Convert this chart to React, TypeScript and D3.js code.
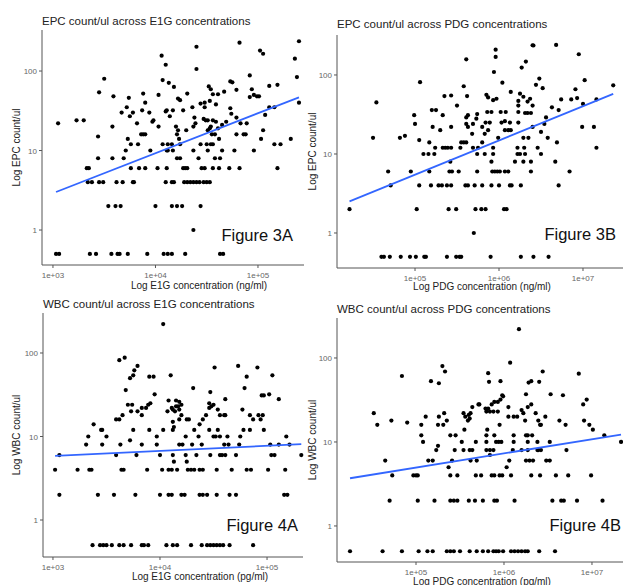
import React from "react";
import * as d3 from "d3";

// each point: [log10 concentration, count/ul]  (zero counts sit at 0.5)
type Obs = [number, number];

const epcE1g: Obs[] = [
  [3.03, 0.5], [3.06, 0.5], [3.36, 0.5], [3.42, 0.5], [3.57, 0.5], [3.63, 0.5], [3.65, 0.5], [3.73, 0.5],
  [3.92, 0.5], [4.08, 0.5], [4.12, 0.5], [4.16, 0.5], [4.29, 0.5], [4.63, 0.5], [4.66, 0.5],
  [4.37, 1],
  [3.54, 2], [3.61, 2], [3.66, 2], [4.0, 2], [4.16, 2], [4.21, 2], [4.26, 2], [4.44, 2],
  [3.34, 4], [3.38, 4], [3.45, 4], [3.49, 4], [3.62, 4], [3.68, 4], [3.78, 4], [3.79, 4], [4.1, 4], [4.16, 4],
  [4.18, 4], [4.28, 4], [4.31, 4], [4.34, 4], [4.37, 4], [4.4, 4], [4.43, 4], [4.47, 4], [4.5, 4], [4.53, 4],
  [3.33, 6], [3.35, 6], [3.76, 6], [3.84, 6], [3.9, 6], [4.02, 6], [4.11, 6], [4.27, 6], [4.29, 6], [4.31, 6],
  [4.45, 6], [4.48, 6], [4.56, 6], [4.62, 6], [4.72, 6], [4.82, 6], [5.19, 6],
  [3.44, 8], [3.58, 8], [3.69, 8], [4.21, 8], [4.24, 8], [4.42, 8], [4.58, 8], [4.63, 8],
  [3.71, 10], [3.95, 10], [4.11, 10], [4.12, 10], [4.17, 10], [4.37, 10], [4.51, 10], [4.65, 10], [4.77, 10], [4.96, 10],
  [3.76, 12], [3.83, 12], [4.07, 12], [4.12, 12], [4.16, 12], [4.24, 12], [4.44, 12], [4.5, 12], [4.54, 12],
  [4.56, 12], [5.16, 12], [5.22, 12],
  [3.73, 14], [4.23, 14], [4.62, 14], [5.03, 14], [5.32, 14], [3.44, 15],
  [3.86, 16], [3.88, 16], [3.9, 16], [4.21, 16], [4.55, 16], [4.58, 16], [4.79, 16], [4.86, 16], [4.88, 16],
  [3.05, 22], [3.23, 24], [3.3, 24], [3.5, 80], [3.45, 54], [3.59, 48], [3.58, 20], [3.67, 30], [3.72, 35],
  [3.74, 46], [3.78, 30], [3.75, 27], [3.82, 22], [3.87, 32], [3.88, 52], [3.9, 40], [3.94, 30], [3.97, 23],
  [3.98, 24], [4.03, 20], [4.03, 50], [4.06, 156], [4.1, 120], [4.07, 77], [4.13, 71], [4.18, 63], [4.1, 31],
  [4.11, 32], [4.14, 27], [4.17, 32], [4.22, 45], [4.24, 43], [4.31, 52], [4.27, 32], [4.36, 35], [4.2, 20],
  [4.22, 18], [4.3, 18], [4.4, 202], [4.4, 106], [4.82, 227], [5.02, 181], [5.05, 165], [5.4, 237], [5.36, 143],
  [5.38, 84], [5.4, 40], [4.44, 39], [4.48, 40], [4.48, 35], [4.52, 64], [4.54, 59], [4.56, 51], [4.61, 51],
  [4.59, 38], [4.53, 42], [4.67, 55], [4.73, 74], [4.75, 72], [4.79, 58], [4.92, 88], [4.94, 59], [4.96, 50],
  [4.99, 48], [5.01, 48], [4.92, 47], [5.11, 65], [5.19, 67], [5.11, 35], [5.16, 35], [5.07, 28], [5.05, 18],
  [4.38, 26], [4.39, 22], [4.37, 20], [4.47, 25], [4.49, 24], [4.51, 24], [4.56, 24], [4.59, 23], [4.54, 20],
  [4.61, 19], [4.65, 21], [4.69, 23], [4.73, 34], [4.74, 29], [4.79, 26], [4.83, 22], [4.89, 22], [4.51, 18],
  [4.53, 19],
];

const epcPdg: Obs[] = [
  [4.6, 0.5], [4.63, 0.5], [4.7, 0.5], [4.83, 0.5], [4.94, 0.5], [5.01, 0.5], [5.11, 0.5], [5.13, 0.5],
  [5.38, 0.5], [5.49, 0.5], [5.53, 0.5], [5.55, 0.5], [5.9, 0.5], [6.26, 0.5], [6.41, 0.5], [6.59, 0.5],
  [5.7, 1],
  [4.22, 2], [5.02, 2], [5.4, 2], [5.49, 2], [5.72, 2], [5.79, 2], [5.84, 2], [6.06, 2], [6.09, 2],
  [4.71, 4], [5.05, 4], [5.19, 4], [5.28, 4], [5.32, 4], [5.38, 4], [5.43, 4], [5.6, 4], [5.63, 4], [5.71, 4],
  [5.8, 4], [5.91, 4], [6.0, 4], [6.13, 4], [6.15, 4], [6.26, 4], [6.71, 4],
  [4.68, 6], [4.95, 6], [5.17, 6], [5.41, 6], [5.44, 6], [5.52, 6], [5.74, 6], [5.92, 6], [5.95, 6], [5.98, 6],
  [6.01, 6], [6.07, 6], [6.11, 6], [6.38, 6], [6.84, 6],
  [5.42, 8], [5.91, 8], [6.19, 8], [6.29, 8], [6.38, 8], [6.67, 8],
  [5.1, 10], [5.16, 10], [5.23, 10], [5.74, 10], [5.83, 10], [5.93, 10], [6.22, 10], [6.25, 10], [6.31, 10], [6.5, 10],
  [5.24, 12], [5.33, 12], [5.36, 12], [5.39, 12], [5.43, 12], [5.54, 12], [5.69, 12], [5.75, 12], [5.93, 12],
  [6.22, 12], [6.3, 12], [6.46, 12], [7.16, 12],
  [5.17, 14], [5.55, 14], [5.58, 14], [5.61, 14], [5.8, 14], [6.69, 14], [5.05, 15],
  [4.5, 16], [4.82, 16], [5.99, 16], [6.29, 16], [6.35, 16], [6.58, 16], [4.88, 17],
  [4.54, 45], [4.99, 31], [5.0, 24], [5.06, 81], [5.2, 36], [5.25, 36], [5.21, 22], [5.33, 31], [5.3, 20],
  [5.35, 54], [5.43, 55], [5.43, 22], [5.5, 41], [5.58, 72], [5.62, 54], [5.61, 158], [5.61, 29], [5.63, 31],
  [5.61, 24], [5.63, 22], [5.69, 24], [5.68, 18], [5.74, 32], [5.73, 28], [5.96, 209], [5.96, 169], [5.94, 109],
  [6.04, 80], [6.4, 238], [6.41, 236], [6.68, 240], [6.95, 183], [6.32, 148], [6.27, 124], [6.48, 90], [6.44, 75],
  [6.52, 68], [7.02, 86], [7.36, 74], [6.91, 66], [6.86, 49], [6.93, 51], [7.0, 43], [7.16, 49], [6.74, 49],
  [6.71, 36], [6.63, 39], [6.99, 22], [7.13, 22], [6.56, 29], [6.54, 24], [6.4, 22], [6.5, 19], [6.07, 20],
  [6.11, 20], [6.14, 20], [5.83, 18], [5.87, 20], [5.8, 22], [5.84, 25], [5.89, 25], [6.03, 25], [6.07, 26],
  [6.13, 25], [6.23, 25], [5.86, 34], [5.91, 34], [6.02, 34], [6.08, 34], [6.23, 34], [5.93, 48], [5.87, 52],
  [5.85, 56], [5.97, 50], [6.31, 33], [6.34, 33], [6.38, 33], [6.4, 41], [6.34, 46], [6.37, 50], [6.23, 47],
  [6.23, 41], [6.29, 53], [6.25, 58], [6.14, 61],
];

const wbcE1g: Obs[] = [
  [3.37, 0.5], [3.44, 0.5], [3.47, 0.5], [3.5, 0.5], [3.55, 0.5], [3.62, 0.5], [3.66, 0.5], [3.73, 0.5],
  [3.83, 0.5], [3.85, 0.5], [3.89, 0.5], [4.06, 0.5], [4.12, 0.5], [4.16, 0.5], [4.29, 0.5], [4.39, 0.5],
  [4.44, 0.5], [4.47, 0.5], [4.5, 0.5], [4.53, 0.5], [4.56, 0.5], [4.59, 0.5], [4.65, 0.5], [4.87, 0.5],
  [3.06, 2], [3.42, 2], [3.57, 2], [3.77, 2], [4.0, 2], [4.08, 2], [4.11, 2], [4.2, 2], [4.23, 2], [4.37, 2],
  [4.4, 2], [4.44, 2], [4.53, 2], [4.65, 2], [4.71, 2], [5.16, 2], [5.19, 2],
  [3.02, 4], [3.23, 4], [3.34, 4], [3.36, 4], [3.64, 4], [3.66, 4], [3.88, 4], [4.02, 4], [4.08, 4], [4.11, 4],
  [4.16, 4], [4.26, 4], [4.29, 4], [4.32, 4], [4.37, 4], [4.4, 4], [4.53, 4], [4.67, 4], [4.81, 4], [4.85, 4],
  [5.01, 4], [5.17, 4],
  [4.13, 5], [4.25, 5],
  [3.06, 6], [3.59, 6], [3.78, 6], [4.0, 6], [4.12, 6], [4.24, 6], [4.34, 6], [4.47, 6], [4.56, 6], [4.58, 6],
  [4.61, 6], [4.71, 6], [5.04, 6], [5.07, 6], [5.32, 6],
  [3.31, 8], [3.46, 8], [3.63, 8], [3.83, 8], [3.97, 8], [4.18, 8], [4.21, 8], [4.3, 8], [4.39, 8], [4.6, 8],
  [4.64, 8], [4.74, 8], [5.03, 8], [5.11, 8], [5.21, 8], [3.72, 9],
  [3.33, 10], [3.5, 10], [3.97, 10], [4.24, 10], [4.36, 10], [4.5, 10], [4.52, 10], [4.56, 10], [4.63, 10],
  [4.75, 10], [5.18, 10],
  [3.45, 12], [3.46, 12], [3.75, 12], [3.9, 12], [4.03, 12], [4.12, 12], [4.32, 12], [4.46, 12], [4.54, 12],
  [4.78, 12], [4.84, 12], [4.97, 12], [4.13, 13],
  [3.38, 14], [4.37, 14], [4.12, 15],
  [3.59, 16], [3.62, 16], [4.18, 16], [4.25, 16], [4.27, 16], [4.4, 16], [4.87, 16], [4.94, 16],
  [3.65, 18], [3.83, 18], [4.2, 18], [4.43, 18], [4.56, 18], [4.6, 18], [4.61, 18], [4.84, 18], [4.92, 18], [4.96, 18],
  [3.62, 82], [3.67, 88], [3.68, 36], [3.7, 24], [3.74, 24], [3.73, 20], [3.79, 20], [3.72, 50], [3.75, 54],
  [3.76, 62], [3.79, 70], [3.83, 22], [3.87, 22], [3.89, 24], [3.91, 25], [3.9, 52], [3.94, 52], [3.95, 32],
  [4.03, 222], [4.1, 54], [4.07, 20], [4.08, 27], [4.11, 22], [4.12, 21], [4.14, 20], [4.51, 67], [4.73, 70],
  [4.91, 67], [4.81, 52], [5.05, 54], [4.31, 38], [4.47, 34], [4.79, 38], [4.61, 28], [4.95, 31], [4.97, 31],
  [5.02, 32], [5.11, 28], [4.15, 27], [4.18, 26], [4.2, 24], [4.15, 23], [4.17, 23], [4.18, 21], [4.46, 25],
  [4.48, 23], [4.5, 24], [4.46, 22], [4.54, 21], [4.77, 21],
];

const wbcPdg: Obs[] = [
  [4.25, 0.5], [4.62, 0.5], [4.84, 0.5], [5.03, 0.5], [5.13, 0.5], [5.19, 0.5], [5.35, 0.5], [5.39, 0.5],
  [5.43, 0.5], [5.5, 0.5], [5.61, 0.5], [5.69, 0.5], [5.76, 0.5], [5.82, 0.5], [5.88, 0.5], [5.91, 0.5],
  [5.94, 0.5], [5.99, 0.5], [6.08, 0.5], [6.12, 0.5], [6.16, 0.5], [6.2, 0.5], [6.24, 0.5], [6.27, 0.5],
  [6.4, 0.5], [6.58, 0.5],
  [4.7, 2], [5.02, 2], [5.21, 2], [5.39, 2], [5.43, 2], [5.47, 2], [5.6, 2], [5.67, 2], [5.76, 2], [5.89, 2],
  [5.92, 2], [6.12, 2], [6.55, 2], [6.65, 2], [6.68, 2], [6.83, 2], [7.12, 2],
  [4.73, 4], [4.97, 4], [5.0, 4], [5.02, 4], [5.39, 4], [5.47, 4], [5.68, 4], [5.74, 4], [5.86, 4], [5.89, 4],
  [5.95, 4], [5.98, 4], [6.08, 4], [6.31, 4], [6.41, 4], [6.59, 4], [6.73, 4], [6.99, 4],
  [5.37, 5], [6.03, 5],
  [4.65, 6], [5.14, 6], [5.19, 6], [5.41, 6], [5.62, 6], [5.69, 6], [6.06, 6], [6.25, 6], [6.29, 6], [6.33, 6],
  [6.48, 6], [6.52, 6], [5.84, 7],
  [5.23, 8], [5.44, 8], [5.54, 8], [5.61, 8], [5.64, 8], [5.8, 8], [5.84, 8], [5.88, 8], [6.1, 8], [6.2, 8],
  [6.27, 8], [6.38, 8], [6.39, 8], [6.42, 8], [6.71, 8], [5.25, 9],
  [5.08, 10], [5.52, 10], [5.68, 10], [5.8, 10], [5.91, 10], [5.94, 10], [5.97, 10], [6.11, 10], [6.27, 10],
  [6.38, 10], [6.52, 10], [7.33, 10],
  [5.06, 12], [5.39, 12], [5.45, 12], [5.8, 12], [5.89, 12], [6.11, 12], [6.25, 12], [6.27, 12], [6.32, 12], [7.14, 12],
  [5.55, 14], [5.81, 14], [7.01, 14],
  [4.56, 16], [5.06, 16], [5.31, 16], [5.25, 16], [5.95, 16], [6.41, 16], [6.42, 16], [6.7, 16], [6.97, 16],
  [4.9, 17],
  [4.72, 18], [5.35, 18], [5.59, 18], [6.24, 18], [6.39, 18], [6.63, 18], [6.91, 18],
  [5.11, 20], [5.26, 20], [5.56, 20], [6.05, 20], [6.11, 20], [6.15, 20], [6.47, 20],
  [4.52, 22], [4.84, 61], [5.17, 53], [5.26, 50], [5.3, 80], [5.33, 69], [5.32, 22], [5.54, 22], [5.6, 21],
  [5.62, 22], [5.64, 26], [5.71, 28], [5.61, 19], [6.17, 220], [6.07, 88], [5.82, 66], [5.83, 52], [5.96, 53],
  [6.44, 69], [6.28, 51], [6.31, 53], [6.4, 52], [6.85, 65], [6.25, 37], [6.53, 37], [6.67, 36], [5.93, 30],
  [5.96, 32], [5.99, 35], [5.98, 36], [5.89, 30], [5.86, 28], [5.82, 25], [5.79, 25], [5.72, 28], [5.84, 23],
  [5.88, 23], [5.8, 23], [5.93, 23], [6.05, 26], [6.2, 24], [6.22, 22], [6.27, 26], [6.31, 28], [6.36, 22],
  [6.9, 28], [6.94, 32],
];

// lm fits on log10-log10 scale, [intercept, slope]
const epcE1gFit = [-1.044, 0.5025];
const epcPdgFit = [-1.427, 0.433];
const wbcE1gFit = [0.586, 0.0606];
const wbcPdgFit = [-0.15, 0.169];

const e1gTicks = [1e3, 1e4, 1e5];
const pdgTicks = [1e5, 1e6, 1e7];
const countTicks = [1, 10, 100];

const titles = [
  "EPC count/ul across E1G concentrations",
  "EPC count/ul across PDG concentrations",
  "WBC count/ul across E1G concentrations",
  "WBC count/ul across PDG concentrations",
];
const xTitles = [
  "Log E1G concentration (ng/ml)",
  "Log PDG concentration (ng/ml)",
  "Log E1G concentration (pg/ml)",
  "Log PDG concentration (pg/ml)",
];
const yTitles = ["Log EPC count/ul", "Log EPC count/ul", "Log WBC count/ul", "Log WBC count/ul"];
const figureTags = ["Figure 3A", "Figure 3B", "Figure 4A", "Figure 4B"];

const FONT = "'Liberation Sans', Arial, sans-serif";

// where each cropped ggplot panel sits in the composite
const frames = [
  { data: epcE1g, fit: epcE1gFit, ticks: e1gTicks, left: 42, right: 304, top: 30, bottom: 265, xd: [2.893, 5.449], yd: [-0.44, 2.516],
    titleY: 25, xtX: 199, xtY: 288.5, ytX: 20, figX: 293, figY: 240.5, clipX: 0 },
  { data: epcPdg, fit: epcPdgFit, ticks: pdgTicks, left: 337, right: 626, top: 35, bottom: 268, xd: [4.071, 7.512], yd: [-0.443, 2.506],
    titleY: 28, xtX: 482, xtY: 290, ytX: 316, figX: 616, figY: 240, clipX: 306 },
  { data: wbcE1g, fit: wbcE1gFit, ticks: e1gTicks, left: 43, right: 303, top: 313, bottom: 557, xd: [2.907, 5.336], yd: [-0.443, 2.479],
    titleY: 307.5, xtX: 200, xtY: 580, ytX: 20, figX: 298, figY: 531, clipX: 0 },
  { data: wbcPdg, fit: wbcPdgFit, ticks: pdgTicks, left: 337, right: 635, top: 318, bottom: 562, xd: [4.102, 7.489], yd: [-0.429, 2.476],
    titleY: 312.5, xtX: 482, xtY: 584.5, ytX: 316, figX: 621, figY: 530.5, clipX: 306 },
];

function fitLine(data: Obs[], fit: number[]) {
  const [x0, x1] = d3.extent(data, (d) => d[0]) as [number, number];
  return [x0, x1].map((x) => [Math.pow(10, x), Math.pow(10, fit[0] + fit[1] * x)] as [number, number]);
}

function Panel({ i }: { i: number }) {
  const f = frames[i];
  const x = d3.scaleLog().domain([Math.pow(10, f.xd[0]), Math.pow(10, f.xd[1])]).range([f.left, f.right]);
  const y = d3.scaleLog().domain([Math.pow(10, f.yd[0]), Math.pow(10, f.yd[1])]).range([f.bottom, f.top]);
  const line = d3.line<[number, number]>().x((d) => x(d[0])).y((d) => y(d[1]));
  const axisCol = "#555";
  const tickCol = "#666";

  return (
    <g clipPath={f.clipX ? `url(#clip${i})` : undefined}>
      {f.clipX ? (
        <defs>
          <clipPath id={`clip${i}`}>
            <rect x={f.clipX} y={0} width={700} height={600} />
          </clipPath>
        </defs>
      ) : null}
      <text x={f.left} y={f.titleY} fontSize={11.5} fill="#222" fontFamily={FONT}>
        {titles[i]}
      </text>
      <line x1={f.left} x2={f.left} y1={f.top} y2={f.bottom} stroke={axisCol} strokeWidth={1} />
      <line x1={f.left} x2={f.right} y1={f.bottom} y2={f.bottom} stroke={axisCol} strokeWidth={1} />
      {f.ticks.map((t) => (
        <g key={t}>
          <line x1={x(t)} x2={x(t)} y1={f.bottom} y2={f.bottom + 3} stroke={axisCol} />
          <text x={x(t)} y={f.bottom + 12.5} fontSize={8} textAnchor="middle" fill={tickCol} fontFamily={FONT}>
            {d3.format(".0e")(t).replace("e+", "e+0")}
          </text>
        </g>
      ))}
      {countTicks.map((t) => (
        <g key={t}>
          <line x1={f.left - 3} x2={f.left} y1={y(t)} y2={y(t)} stroke={axisCol} />
          <text x={f.left - 5} y={y(t) + 3} fontSize={8} textAnchor="end" fill={tickCol} fontFamily={FONT}>
            {t}
          </text>
        </g>
      ))}
      {f.data.map((d, k) => (
        <circle key={k} cx={x(Math.pow(10, d[0]))} cy={y(d[1])} r={2.1} fill="#000" />
      ))}
      <path d={line(fitLine(f.data, f.fit)) || ""} fill="none" stroke="#3366FF" strokeWidth={1.8} />
      <text x={f.xtX} y={f.xtY} fontSize={10} textAnchor="middle" fill="#222" fontFamily={FONT}>
        {xTitles[i]}
      </text>
      <text
        transform={`translate(${f.ytX},${(f.top + f.bottom) / 2}) rotate(-90)`}
        fontSize={10}
        textAnchor="middle"
        fill="#222"
        fontFamily={FONT}
      >
        {yTitles[i]}
      </text>
      <text x={f.figX} y={f.figY} fontSize={16.5} textAnchor="end" fill="#111" fontFamily={FONT}>
        {figureTags[i]}
      </text>
    </g>
  );
}

export default function App() {
  return (
    <div style={{ position: "absolute", left: 0, top: 0 }}>
      <svg width={623} height={585} style={{ display: "block", background: "#fff" }}>
        {frames.map((_, i) => (
          <Panel key={i} i={i} />
        ))}
      </svg>
    </div>
  );
}
